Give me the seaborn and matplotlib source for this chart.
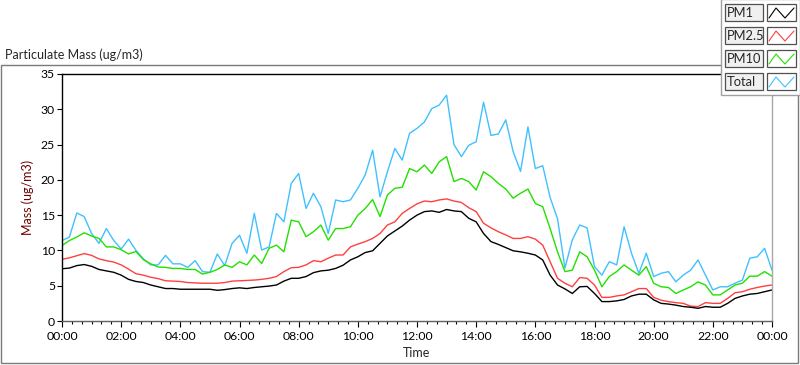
import numpy as np
import pandas as pd
import seaborn as sns
import matplotlib.pyplot as plt
from matplotlib.patches import Rectangle
from matplotlib.lines import Line2D

sns.set_style("white")
plt.rcParams['font.family'] = ['Lato', 'DejaVu Sans']

# readings every 15 minutes, 00:00 .. 24:00
hour = np.arange(97) * 0.25

pm1 = [7.4, 7.5, 7.85, 8.0, 7.75, 7.3, 7.1, 6.9, 6.5, 5.9, 5.6, 5.45,
       5.1, 4.85, 4.6, 4.6, 4.5, 4.5, 4.5, 4.5, 4.5, 4.35, 4.45, 4.6,
       4.7, 4.6, 4.75, 4.85, 4.95, 5.1, 5.65, 6.05, 6.05, 6.3, 6.85, 7.1,
       7.2, 7.45, 7.9, 8.65, 9.1, 9.7, 9.95, 11.0, 12.05, 12.75, 13.45, 14.3,
       15.0, 15.5, 15.6, 15.4, 15.8, 15.6, 15.5, 14.55, 14.05, 12.4, 11.25, 10.85,
       10.4, 9.95, 9.8, 9.6, 9.35, 8.65, 6.5, 5.1, 4.55, 3.9, 4.85, 4.9,
       3.9, 2.75, 2.75, 2.85, 3.05, 3.55, 3.8, 3.8, 3.0, 2.5, 2.4, 2.25,
       2.05, 1.95, 1.8, 2.05, 1.95, 1.95, 2.5, 3.2, 3.55, 3.8, 3.9, 4.15,
       4.4]

pm25 = [8.75, 8.95, 9.25, 9.55, 9.3, 8.8, 8.55, 8.35, 7.95, 7.35, 6.7, 6.5,
        6.2, 6.0, 5.7, 5.65, 5.6, 5.45, 5.4, 5.35, 5.35, 5.35, 5.45, 5.65,
        5.7, 5.75, 5.8, 5.9, 6.05, 6.3, 7.0, 7.55, 7.6, 7.95, 8.55, 8.4,
        8.9, 9.35, 9.35, 10.5, 10.9, 11.25, 11.7, 12.4, 13.6, 14.05, 15.25, 15.95,
        16.6, 17.0, 16.9, 17.15, 17.3, 17.0, 16.8, 16.05, 15.5, 13.85, 13.2, 12.65,
        12.2, 11.7, 11.7, 11.95, 11.6, 10.75, 8.4, 6.05, 5.35, 4.85, 6.15, 6.05,
        5.1, 3.35, 3.35, 3.55, 3.7, 4.15, 4.6, 4.6, 3.35, 2.95, 2.75, 2.6,
        2.5, 2.1, 2.05, 2.6, 2.5, 2.5, 3.2, 4.0, 4.15, 4.5, 4.75, 4.95,
        5.1]

pm10 = [10.7, 11.4, 11.9, 12.5, 12.05, 11.7, 10.5, 10.5, 10.1, 9.5, 9.85, 8.7,
        8.1, 7.65, 7.6, 7.45, 7.45, 7.3, 7.3, 6.65, 6.9, 7.3, 7.95, 7.6,
        8.4, 7.95, 9.35, 8.15, 10.3, 10.75, 9.8, 14.3, 14.05, 11.95, 12.65, 13.6,
        11.45, 13.1, 13.1, 13.35, 15.0, 15.95, 17.2, 14.8, 17.85, 18.8, 18.95, 21.6,
        21.15, 22.1, 20.9, 22.55, 23.3, 19.75, 20.2, 19.75, 18.55, 21.15, 20.45, 19.5,
        18.7, 17.4, 18.1, 18.7, 16.65, 16.2, 13.1, 9.8, 7.0, 7.2, 9.8, 9.1,
        7.2, 4.85, 6.3, 7.0, 7.95, 7.2, 6.5, 7.7, 5.35, 4.85, 4.75, 3.9,
        4.4, 4.85, 5.55, 5.1, 3.7, 3.7, 4.4, 5.1, 5.35, 6.35, 6.35, 7.0,
        6.35]

total = [11.4, 11.9, 15.3, 14.8, 12.4, 11.0, 13.1, 11.4, 10.2, 11.6, 10.0, 8.8,
         7.95, 7.95, 9.3, 8.1, 8.1, 7.6, 8.55, 7.0, 6.9, 9.5, 7.85, 11.0,
         12.15, 9.6, 15.25, 10.05, 10.5, 15.25, 14.05, 19.5, 20.9, 15.95, 18.1, 16.2,
         12.4, 17.15, 16.9, 17.15, 18.8, 20.7, 24.2, 17.6, 21.15, 24.45, 22.8, 26.6,
         27.3, 28.2, 30.1, 30.6, 32.0, 25.0, 23.3, 24.9, 25.4, 31.0, 26.3, 26.5,
         28.5, 24.0, 21.2, 27.5, 21.6, 22.0, 17.5, 14.5, 7.5, 11.5, 13.6, 13.2,
         7.7, 6.5, 8.4, 7.95, 13.35, 9.6, 6.75, 9.6, 6.3, 6.75, 7.0, 5.55,
         6.5, 7.2, 8.65, 6.5, 4.4, 4.85, 4.85, 5.35, 5.8, 8.9, 9.1, 10.3,
         7.2]

series_names = ["PM1", "PM2.5", "PM10", "Total"]
series_colors = ["#000000", "#ff4040", "#22e000", "#40c0ff"]
hour_ticks = list(range(0, 25, 2))
hour_labels = ["%02d:00" % (h % 24) for h in hour_ticks]

df = pd.concat([
    pd.DataFrame({"hour": hour, "mass": vals, "series": name})
    for name, vals in zip(series_names, [pm1, pm25, pm10, total])
])

W, H = 800, 365


def fx(x):
    return x / W


def fy(y):
    return 1 - y / H


fig = plt.figure(figsize=(8, 3.65), dpi=100)
fig.patch.set_facecolor("white")
ax = fig.add_axes([fx(62), fy(321), (772 - 62) / W, (321 - 74) / H])

sns.lineplot(data=df, x="hour", y="mass", hue="series", hue_order=series_names[::-1],
             palette=dict(zip(series_names, series_colors)), legend=False,
             linewidth=1.0, ax=ax)

ax.set_xlim(0, 24)
ax.set_ylim(0, 35)
ax.set_xticks(hour_ticks)
ax.set_xticklabels(hour_labels)
ax.set_xticks(np.arange(0, 24.01, 1 / 3), minor=True)
ax.set_yticks(range(0, 36, 5))
ax.tick_params(axis="both", which="both", direction="out", width=0.8,
               colors="black", labelsize=8.8, bottom=True, left=True)
ax.tick_params(axis="x", which="major", length=4.5, pad=2.5)
ax.tick_params(axis="x", which="minor", length=2.5)
ax.tick_params(axis="y", which="major", length=3.5, pad=1.5)

ax.set_xlabel("Time", fontsize=9, labelpad=4)
ax.set_ylabel("Mass (ug/m3)", fontsize=9, color="#6b0000", labelpad=5)

ax.spines["top"].set_color("black")
ax.spines["left"].set_color("black")
ax.spines["right"].set_color("#a8a8a8")
ax.spines["bottom"].set_color("#606060")
for s in ax.spines.values():
    s.set_linewidth(1.0)

# outer panel frame and title
fig.add_artist(Rectangle((fx(1), fy(363)), (797) / W, (363 - 65) / H,
                         transform=fig.transFigure, facecolor="none",
                         edgecolor="#7a7a7a", lw=1.0, zorder=-1))
fig.text(fx(5), fy(55), "Particulate Mass (ug/m3)", fontsize=9,
         ha="left", va="center")

# legend panel
fig.add_artist(Rectangle((fx(721), fy(95)), 79 / W, 96 / H,
                         transform=fig.transFigure, facecolor="white",
                         edgecolor="#a0a0a0", lw=1.0, zorder=5))
row_tops = [4, 27, 50, 73]
for top, name, col in zip(row_tops, series_names, series_colors):
    fig.add_artist(Rectangle((fx(725), fy(top + 17)), 38 / W, 17 / H,
                             transform=fig.transFigure, facecolor="#f0f0f0",
                             edgecolor="#505050", lw=0.9, zorder=6))
    fig.text(fx(727), fy(top + 8.8), name, fontsize=9.3, ha="left",
             va="center", zorder=7)
    fig.add_artist(Rectangle((fx(767), fy(top + 17)), 29 / W, 17 / H,
                             transform=fig.transFigure, facecolor="white",
                             edgecolor="#505050", lw=0.9, zorder=6))
    sx = [769, 776, 785, 794]
    sy = [top + 14, top + 4, top + 14, top + 4]
    fig.add_artist(Line2D([fx(v) for v in sx], [fy(v) for v in sy],
                          transform=fig.transFigure, color=col, lw=0.8,
                          zorder=7))

fig.savefig("out.png", dpi=100, facecolor="white")
